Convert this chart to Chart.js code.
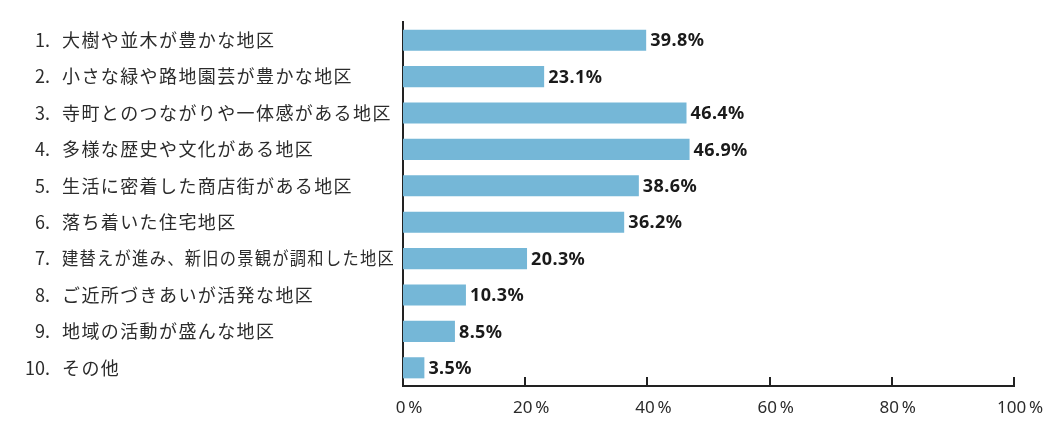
<!DOCTYPE html>
<html lang="ja">
<head>
<meta charset="utf-8">
<title>地区のイメージ</title>
<script src="https://cdn.jsdelivr.net/npm/chart.js@4.4.1/dist/chart.umd.min.js"></script>
<style>
  html, body { margin: 0; padding: 0; background: #fff; }
  #wrap { width: 1050px; height: 425px; position: relative; }
</style>
</head>
<body>
<div id="wrap"><canvas id="areaChart"></canvas></div>
<script>
// Data
const categories = [
    '大樹や並木が豊かな地区',
    '小さな緑や路地園芸が豊かな地区',
    '寺町とのつながりや一体感がある地区',
    '多様な歴史や文化がある地区',
    '生活に密着した商店街がある地区',
    '落ち着いた住宅地区',
    '建替えが進み、新旧の景観が調和した地区',
    'ご近所づきあいが活発な地区',
    '地域の活動が盛んな地区',
    'その他'
];
const percents = [39.8, 23.1, 46.4, 46.9, 38.6, 36.2, 20.3, 10.3, 8.5, 3.5];
const xTicks = [0, 20, 40, 60, 80, 100];

const jpFont = '"Noto Sans CJK JP", "Noto Sans", sans-serif';

// Category labels: number right aligned, text left aligned
const categoryLabels = {
    id: 'categoryLabels',
    afterDraw(chart) {
        const ctx = chart.ctx;
        const yScale = chart.scales.y;
        ctx.save();
        ctx.fillStyle = '#2b2b2b';
        ctx.font = '18px ' + jpFont;
        ctx.textBaseline = 'middle';
        categories.forEach((label, i) => {
            const y = yScale.getPixelForValue(i);
            ctx.letterSpacing = '0px';
            ctx.textAlign = 'right';
            ctx.fillText((i + 1) + '.', 50, y);
            ctx.textAlign = 'left';
            ctx.letterSpacing = '1.4px';
            // long labels get squeezed so they stay left of the axis
            ctx.fillText(label, 62, y, 333);
        });
        ctx.restore();
    }
};

// Value labels at the end of each bar
const valueLabels = {
    id: 'valueLabels',
    afterDatasetsDraw(chart) {
        const ctx = chart.ctx;
        const meta = chart.getDatasetMeta(0);
        ctx.save();
        ctx.fillStyle = '#1a1a1a';
        ctx.font = 'bold 18px "Noto Sans", sans-serif';
        ctx.letterSpacing = '0.4px';
        ctx.textAlign = 'left';
        ctx.textBaseline = 'middle';
        meta.data.forEach((bar, i) => {
            ctx.fillText(percents[i].toFixed(1) + '%', bar.x + 4, bar.y + 1);
        });
        ctx.restore();
    }
};

// Tick marks pointing up into the plot area
const upTicks = {
    id: 'upTicks',
    afterDraw(chart) {
        const ctx = chart.ctx;
        const xScale = chart.scales.x;
        const bottom = chart.chartArea.bottom;
        ctx.save();
        ctx.strokeStyle = '#222';
        ctx.lineWidth = 2;
        xTicks.slice(1).forEach(v => {
            const x = Math.round(xScale.getPixelForValue(v));
            ctx.beginPath();
            ctx.moveTo(x, bottom);
            ctx.lineTo(x, bottom - 9);
            ctx.stroke();
        });
        ctx.restore();
    }
};

document.addEventListener('DOMContentLoaded', function() {
    const ctx = document.getElementById('areaChart').getContext('2d');

    new Chart(ctx, {
        type: 'bar',
        data: {
            labels: categories,
            datasets: [{
                data: percents,
                backgroundColor: '#75b7d7',
                borderWidth: 0,
                categoryPercentage: 1,
                barPercentage: 0.58
            }]
        },
        options: {
            indexAxis: 'y',
            responsive: true,
            maintainAspectRatio: false,
            animation: false,
            layout: { padding: { top: 22, right: 36, left: 0, bottom: 0 } },
            plugins: {
                legend: { display: false },
                tooltip: { enabled: false }
            },
            scales: {
                x: {
                    min: 0,
                    max: 100,
                    afterBuildTicks: function(scale) {
                        scale.ticks = xTicks.map(v => ({ value: v }));
                    },
                    afterFit: function(scale) { scale.height = 39; },
                    grid: { display: false, drawTicks: false },
                    border: { display: true, color: '#222', width: 2 },
                    ticks: {
                        padding: 12,
                        labelOffset: 6,
                        color: '#2b2b2b',
                        font: { family: '"Noto Sans", sans-serif', size: 17 },
                        callback: v => v + '\u2009%'
                    }
                },
                y: {
                    afterFit: function(scale) { scale.width = 403; },
                    grid: { display: false, drawTicks: false },
                    border: { display: true, color: '#222', width: 2 },
                    ticks: { display: false }
                }
            }
        },
        plugins: [categoryLabels, valueLabels, upTicks]
    });
});
</script>
</body>
</html>
